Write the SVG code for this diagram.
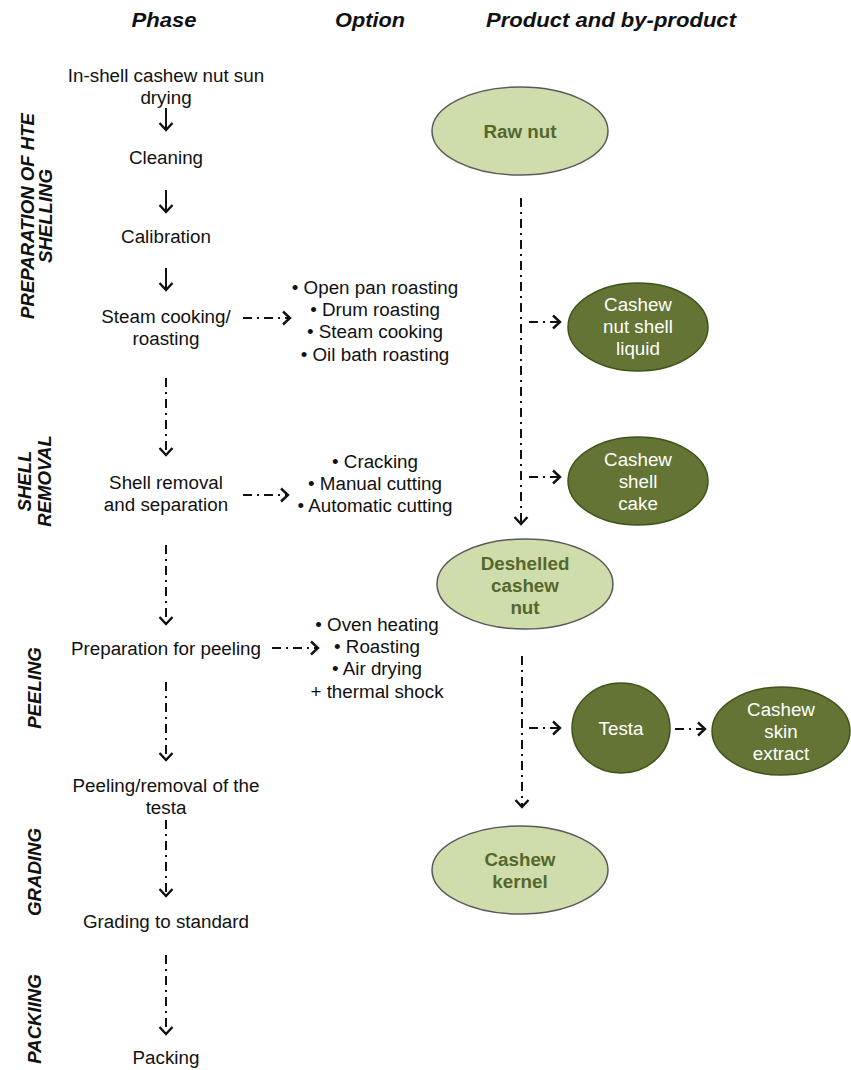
<svg xmlns="http://www.w3.org/2000/svg" width="851" height="1070" viewBox="0 0 851 1070">
<defs>
<style>
.t{font-family:"Liberation Sans",Arial,sans-serif;font-size:18.8px;fill:#111;text-anchor:middle}
.h{font-family:"Liberation Sans",Arial,sans-serif;font-size:20px;font-weight:bold;font-style:italic;fill:#111;text-anchor:middle}
.v{font-family:"Liberation Sans",Arial,sans-serif;font-size:18.6px;font-weight:bold;font-style:italic;fill:#111;text-anchor:middle}
.lt{fill:#cfdcab;stroke:#5a5a5a;stroke-width:1.5}
.dk{fill:#637434;stroke:#3d5418;stroke-width:1.5}
.lb{font-family:"Liberation Sans",Arial,sans-serif;font-size:18.8px;font-weight:bold;fill:#55682c;text-anchor:middle}
.wb{font-family:"Liberation Sans",Arial,sans-serif;font-size:18.8px;fill:#fff;text-anchor:middle}
.s{stroke:#111;stroke-width:2;fill:none}
.d{stroke:#111;stroke-width:2;fill:none;stroke-dasharray:9 5 2 5}
</style>
<marker id="ah" markerUnits="userSpaceOnUse" markerWidth="16" markerHeight="16" refX="8" refY="8" orient="auto" viewBox="0 0 16 16">
<polyline points="1,1.5 8,8 1,14.5" fill="none" stroke="#111" stroke-width="2.4"/>
</marker>
</defs>
<rect width="851" height="1070" fill="#fff"/>

<g id="headings">
<text class="h" x="164" y="27" textLength="65" lengthAdjust="spacingAndGlyphs">Phase</text>
<text class="h" x="370" y="27" textLength="70" lengthAdjust="spacingAndGlyphs">Option</text>
<text class="h" x="611" y="27" textLength="250" lengthAdjust="spacingAndGlyphs">Product and by-product</text>
</g>

<g id="phase-labels">
<text class="v" transform="translate(34,216) rotate(-90)">PREPARATION OF HTE</text>
<text class="v" transform="translate(52,216) rotate(-90)">SHELLING</text>
<text class="v" transform="translate(31,481) rotate(-90)">SHELL</text>
<text class="v" transform="translate(51,481) rotate(-90)">REMOVAL</text>
<text class="v" transform="translate(41,688) rotate(-90)">PEELING</text>
<text class="v" transform="translate(41,872) rotate(-90)">GRADING</text>
<text class="v" transform="translate(41,1019) rotate(-90)">PACKIING</text>
</g>

<g id="step-sun-drying"><text class="t" x="166" y="82">In-shell cashew nut sun</text><text class="t" x="166" y="104">drying</text></g>
<g id="step-cleaning"><text class="t" x="166" y="164">Cleaning</text></g>
<g id="step-calibration"><text class="t" x="166" y="243">Calibration</text></g>
<g id="step-steam"><text class="t" x="166" y="323">Steam cooking/</text><text class="t" x="166" y="345">roasting</text></g>
<g id="step-shell-removal"><text class="t" x="166" y="489">Shell removal</text><text class="t" x="166" y="511">and separation</text></g>
<g id="step-prep-peeling"><text class="t" x="166" y="655">Preparation for peeling</text></g>
<g id="step-peeling"><text class="t" x="166" y="792">Peeling/removal of the</text><text class="t" x="166" y="814">testa</text></g>
<g id="step-grading"><text class="t" x="166" y="928">Grading to standard</text></g>
<g id="step-packing"><text class="t" x="166" y="1064">Packing</text></g>

<g id="opt-roasting">
<text class="t" x="375" y="294">• Open pan roasting</text>
<text class="t" x="375" y="316">• Drum roasting</text>
<text class="t" x="375" y="338">• Steam cooking</text>
<text class="t" x="375" y="361">• Oil bath roasting</text>
</g>
<g id="opt-shelling">
<text class="t" x="375" y="468">• Cracking</text>
<text class="t" x="375" y="490">• Manual cutting</text>
<text class="t" x="375" y="512">• Automatic cutting</text>
</g>
<g id="opt-peeling">
<text class="t" x="377" y="631">• Oven heating</text>
<text class="t" x="377" y="653">• Roasting</text>
<text class="t" x="377" y="675">• Air drying</text>
<text class="t" x="377" y="698">+ thermal shock</text>
</g>

<g id="raw-nut"><ellipse class="lt" cx="520" cy="131" rx="88" ry="44"/><text class="lb" x="520" y="138">Raw nut</text></g>
<g id="cnsl"><ellipse class="dk" cx="638" cy="327" rx="70" ry="44"/><text class="wb" x="638" y="311">Cashew</text><text class="wb" x="638" y="333">nut shell</text><text class="wb" x="638" y="355">liquid</text></g>
<g id="shell-cake"><ellipse class="dk" cx="638" cy="481" rx="70" ry="44"/><text class="wb" x="638" y="466">Cashew</text><text class="wb" x="638" y="488">shell</text><text class="wb" x="638" y="510">cake</text></g>
<g id="deshelled"><ellipse class="lt" cx="525" cy="584" rx="88" ry="45"/><text class="lb" x="525" y="570">Deshelled</text><text class="lb" x="525" y="592">cashew</text><text class="lb" x="525" y="614">nut</text></g>
<g id="testa"><ellipse class="dk" cx="621" cy="728" rx="49" ry="45"/><text class="wb" x="621" y="735">Testa</text></g>
<g id="skin-extract"><ellipse class="dk" cx="781" cy="731" rx="69" ry="44"/><text class="wb" x="781" y="716">Cashew</text><text class="wb" x="781" y="738">skin</text><text class="wb" x="781" y="760">extract</text></g>
<g id="kernel"><ellipse class="lt" cx="520" cy="870" rx="88" ry="44"/><text class="lb" x="520" y="866">Cashew</text><text class="lb" x="520" y="888">kernel</text></g>

<g id="connectors">
<line class="s" x1="166" y1="108" x2="166" y2="130" marker-end="url(#ah)"/>
<line class="s" x1="166" y1="190" x2="166" y2="212" marker-end="url(#ah)"/>
<line class="s" x1="166" y1="268" x2="166" y2="290" marker-end="url(#ah)"/>
<line class="d" x1="243" y1="318" x2="290" y2="318" marker-end="url(#ah)"/>
<line class="d" x1="166" y1="378" x2="166" y2="455" marker-end="url(#ah)"/>
<line class="d" x1="243" y1="495" x2="288" y2="495" marker-end="url(#ah)"/>
<line class="d" x1="166" y1="545" x2="166" y2="624" marker-end="url(#ah)"/>
<line class="d" x1="272" y1="648" x2="318" y2="648" marker-end="url(#ah)"/>
<line class="d" x1="166" y1="682" x2="166" y2="760" marker-end="url(#ah)"/>
<line class="d" x1="166" y1="820" x2="166" y2="896" marker-end="url(#ah)"/>
<line class="d" x1="166" y1="955" x2="166" y2="1034" marker-end="url(#ah)"/>
<line class="d" x1="521" y1="198" x2="521" y2="524" marker-end="url(#ah)"/>
<line class="d" x1="529" y1="322" x2="560" y2="322" marker-end="url(#ah)"/>
<line class="d" x1="529" y1="477" x2="560" y2="477" marker-end="url(#ah)"/>
<line class="d" x1="522" y1="656" x2="522" y2="807" marker-end="url(#ah)"/>
<line class="d" x1="529" y1="728" x2="560" y2="728" marker-end="url(#ah)"/>
<line class="d" x1="675" y1="729" x2="705" y2="729" marker-end="url(#ah)"/>
</g>
</svg>
